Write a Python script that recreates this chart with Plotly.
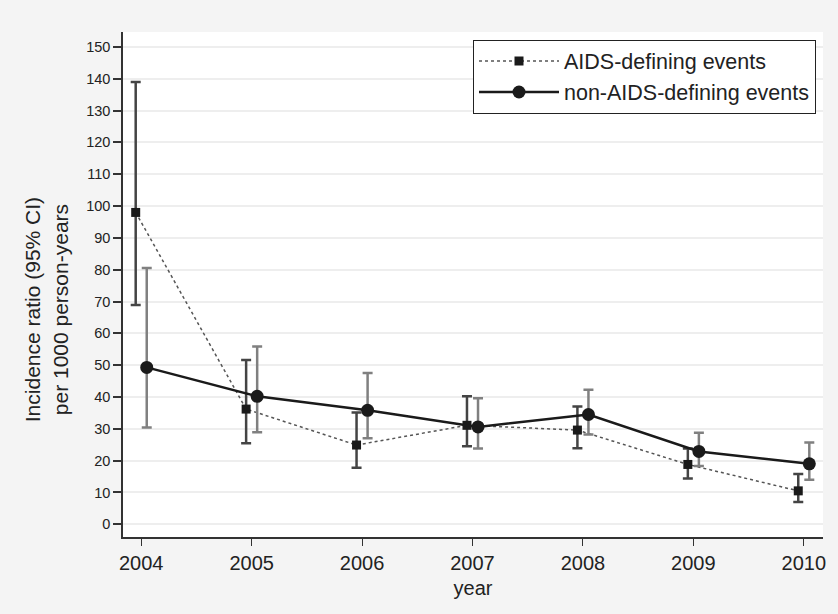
import plotly.graph_objects as go

years = [2004, 2005, 2006, 2007, 2008, 2009, 2010]

aids_rate = [98.0, 36.2, 24.9, 31.1, 29.6, 18.8, 10.5]
aids_upper = [139.0, 51.6, 35.1, 40.2, 37.0, 23.8, 15.8]
aids_lower = [68.9, 25.5, 17.8, 24.5, 23.9, 14.4, 7.0]

non_rate = [49.3, 40.2, 35.8, 30.6, 34.5, 22.9, 19.0]
non_upper = [80.5, 55.9, 47.5, 39.6, 42.3, 28.8, 25.7]
non_lower = [30.4, 28.9, 27.0, 23.8, 28.2, 18.3, 14.0]

y_ticks = list(range(0, 151, 10))

OFFSET = 0.05
FONT = "Liberation Sans, Arial, sans-serif"

x_aids = [y - OFFSET for y in years]
x_non = [y + OFFSET for y in years]

fig = go.Figure()

fig.add_trace(go.Scatter(
    x=x_aids, y=aids_rate, mode="lines+markers",
    name="AIDS-defining events",
    line=dict(color="#555555", width=1.5, dash="dot"),
    marker=dict(symbol="square", size=9, color="#1a1a1a"),
    error_y=dict(type="data", symmetric=False,
                 array=[u - r for u, r in zip(aids_upper, aids_rate)],
                 arrayminus=[r - l for r, l in zip(aids_rate, aids_lower)],
                 color="#444444", thickness=2.5, width=5),
))

fig.add_trace(go.Scatter(
    x=x_non, y=non_rate, mode="lines+markers",
    name="non-AIDS-defining events",
    line=dict(color="#1a1a1a", width=2.5),
    marker=dict(symbol="circle", size=13, color="#1a1a1a"),
    error_y=dict(type="data", symmetric=False,
                 array=[u - r for u, r in zip(non_upper, non_rate)],
                 arrayminus=[r - l for r, l in zip(non_rate, non_lower)],
                 color="#808080", thickness=2.5, width=5),
))

fig.add_annotation(
    text="Incidence ratio (95% CI)<br>per 1000 person-years",
    textangle=-90, xref="paper", yref="paper",
    x=-0.1097, y=0.4495, xanchor="center", yanchor="middle",
    showarrow=False, font=dict(size=21, family=FONT, color="#222222"),
)

fig.update_layout(
    width=838, height=614,
    margin=dict(l=123, r=13, t=32, b=77),
    paper_bgcolor="#f4f4f4",
    plot_bgcolor="#ffffff",
    font=dict(family=FONT, color="#222222", size=14),
    showlegend=True,
    legend=dict(
        x=0.99, y=0.985, xanchor="right", yanchor="top",
        bgcolor="#ffffff", bordercolor="#222222", borderwidth=1,
        font=dict(size=21.5, family=FONT, color="#222222"),
        itemwidth=80, tracegroupgap=0,
    ),
    xaxis=dict(
        range=[2003.835, 2010.174],
        tickvals=years, ticktext=[str(y) for y in years],
        tickfont=dict(size=20),
        ticks="outside", ticklen=7, tickwidth=1, tickcolor="#333333",
        showline=True, linecolor="#333333", linewidth=1.5,
        showgrid=False, zeroline=False,
        title=dict(text="year", font=dict(size=20), standoff=8),
    ),
    yaxis=dict(
        range=[-4.0, 154.7],
        tickvals=y_ticks,
        tickfont=dict(size=14.5),
        ticks="outside", ticklen=8, tickwidth=1.5, tickcolor="#333333",
        showline=True, linecolor="#333333", linewidth=1.5,
        showgrid=True, gridcolor="#eeeeee", gridwidth=2,
        zeroline=False,
    ),
)

fig.write_html("out.html")
